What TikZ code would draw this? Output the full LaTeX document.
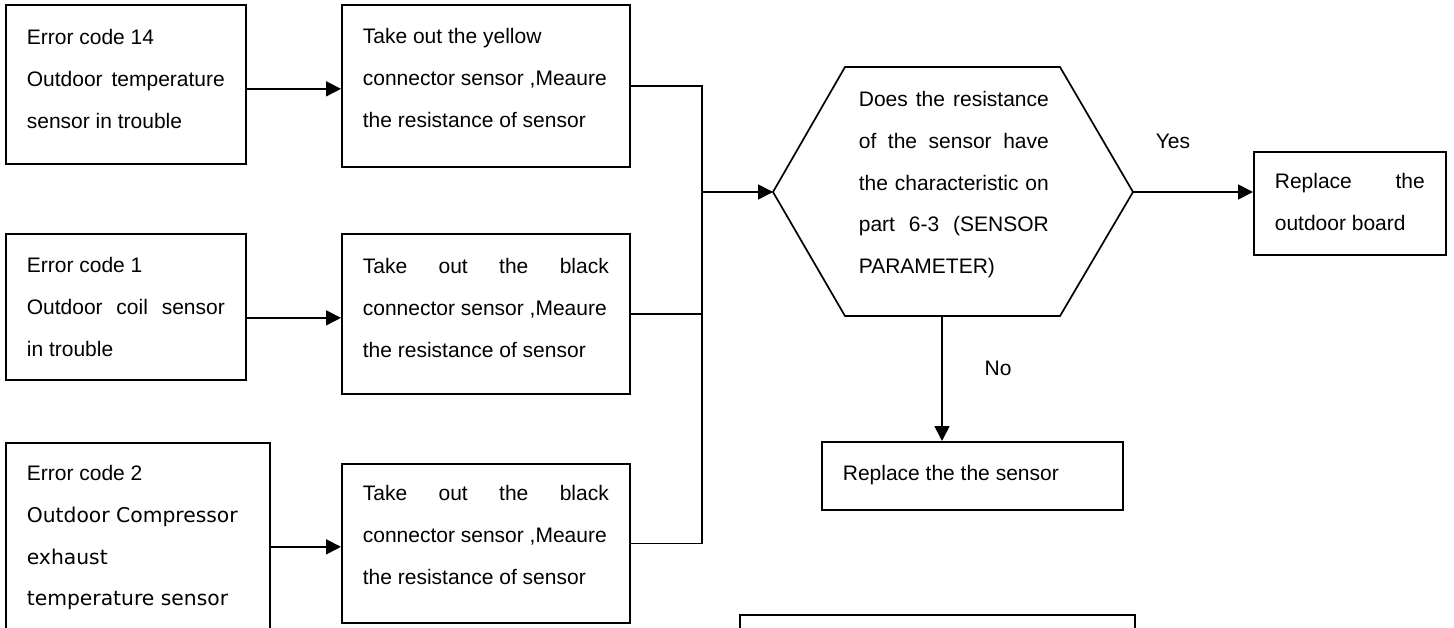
\documentclass[tikz,border=0pt]{standalone}
\usepackage{fontspec}
\usetikzlibrary{arrows.meta}
\newfontfamily\arialfont{Liberation Sans}
\newfontfamily\verdfont{DejaVu Sans}
\newcommand{\jline}[1]{\makebox[\linewidth][s]{#1}}
\tikzset{
  chart/.style={x=1pt,y=-1pt,line width=1.7pt},
  txt/.style={font=\arialfont\fontsize{21}{41.7}\selectfont},
  box/.style={
    txt,
    draw,
    anchor=north west,
    align=justify,
    inner xsep=21pt,
    inner ysep=0pt
  },
  arr/.style={-{Triangle[length=15pt,width=15pt]}}
}
\begin{document}
\begin{tikzpicture}[chart]
  \useasboundingbox (0,0) rectangle (1454,627);
  \clip (0,0) rectangle (1454,627);
  % error codes
  \node[box,text width=198pt,text height=40pt,text depth=119pt] (err14) at (5,4)
    {Error code 14\\ \jline{Outdoor temperature}\\ sensor in trouble};
  \node[box,text width=198pt,text height=39pt,text depth=107pt] (err1) at (5,233)
    {Error code 1\\ \jline{Outdoor coil sensor}\\ in trouble};
  \node[box,text width=222pt,text height=38pt,text depth=160pt] (err2) at (5,442)
    {Error code 2\\ {\verdfont\fontsize{20.3}{41.7}\selectfont Outdoor Compressor\\ exhaust\\ temperature sensor}};
  % measuring
  \node[box,text width=246pt,text height=39pt,text depth=123pt] (take1) at (341,4)
    {Take out the yellow\\ connector sensor ,Meaure\\ the resistance of sensor};
  \node[box,text width=246pt,text height=40pt,text depth=120pt] (take2) at (341,233)
    {\jline{Take out the black}\\ connector sensor ,Meaure\\ the resistance of sensor};
  \node[box,text width=246pt,text height=37pt,text depth=122pt] (take3) at (341,463)
    {\jline{Take out the black}\\ connector sensor ,Meaure\\ the resistance of sensor};
  % decision
  \coordinate (hw) at (773,192);
  \coordinate (hnw) at (845,67);
  \coordinate (hne) at (1060,67);
  \coordinate (he) at (1133,192);
  \coordinate (hse) at (1060,316);
  \coordinate (hsw) at (845,316);
  \draw (hw) -- (hnw) -- (hne) -- (he) -- (hse) -- (hsw) -- cycle;
  \node[txt,anchor=north west,align=justify,text width=190pt,text height=39pt,inner sep=0pt] (check) at (858,67)
    {\jline{Does the resistance}\\ \jline{of the sensor have}\\ \jline{the characteristic on}\\ \jline{part 6-3 (SENSOR}\\ PARAMETER)};
  % results
  \node[box,text width=150pt,text height=37pt,text depth=66pt] (board) at (1253,151)
    {\jline{Replace the}\\ outdoor board};
  \node[box,text width=259pt,text height=39pt,text depth=29pt] (sensor) at (821,441)
    {Replace the the sensor};
  \node[box,text width=353pt,text height=0pt,text depth=40pt] (note) at (739,614) {};
  \node[txt,anchor=base] (yes) at (1173,148) {Yes};
  \node[txt,anchor=base] (no) at (998,375) {No};
  % connectors
  \draw[arr] (err14.east) ++(0,4.5) coordinate (e14o) -- (e14o -| take1.west);
  \draw[arr] (err1.east) ++(0,11) coordinate (e1o) -- (e1o -| take2.west);
  \draw[arr] (err2.east) ++(0,5) coordinate (e2o) -- (e2o -| take3.west);
  \coordinate (join) at (702,192);
  \draw (take1.east) -| (join);
  \draw (take2.east) -| (join);
  \draw (take3.east) -| (join);
  \draw[arr] (join) -- (hw);
  \draw[arr] (he) -- (he -| board.west);
  \coordinate (hs) at (942,316);
  \draw[arr] (hs) -- (hs |- sensor.north);
\end{tikzpicture}
\end{document}
